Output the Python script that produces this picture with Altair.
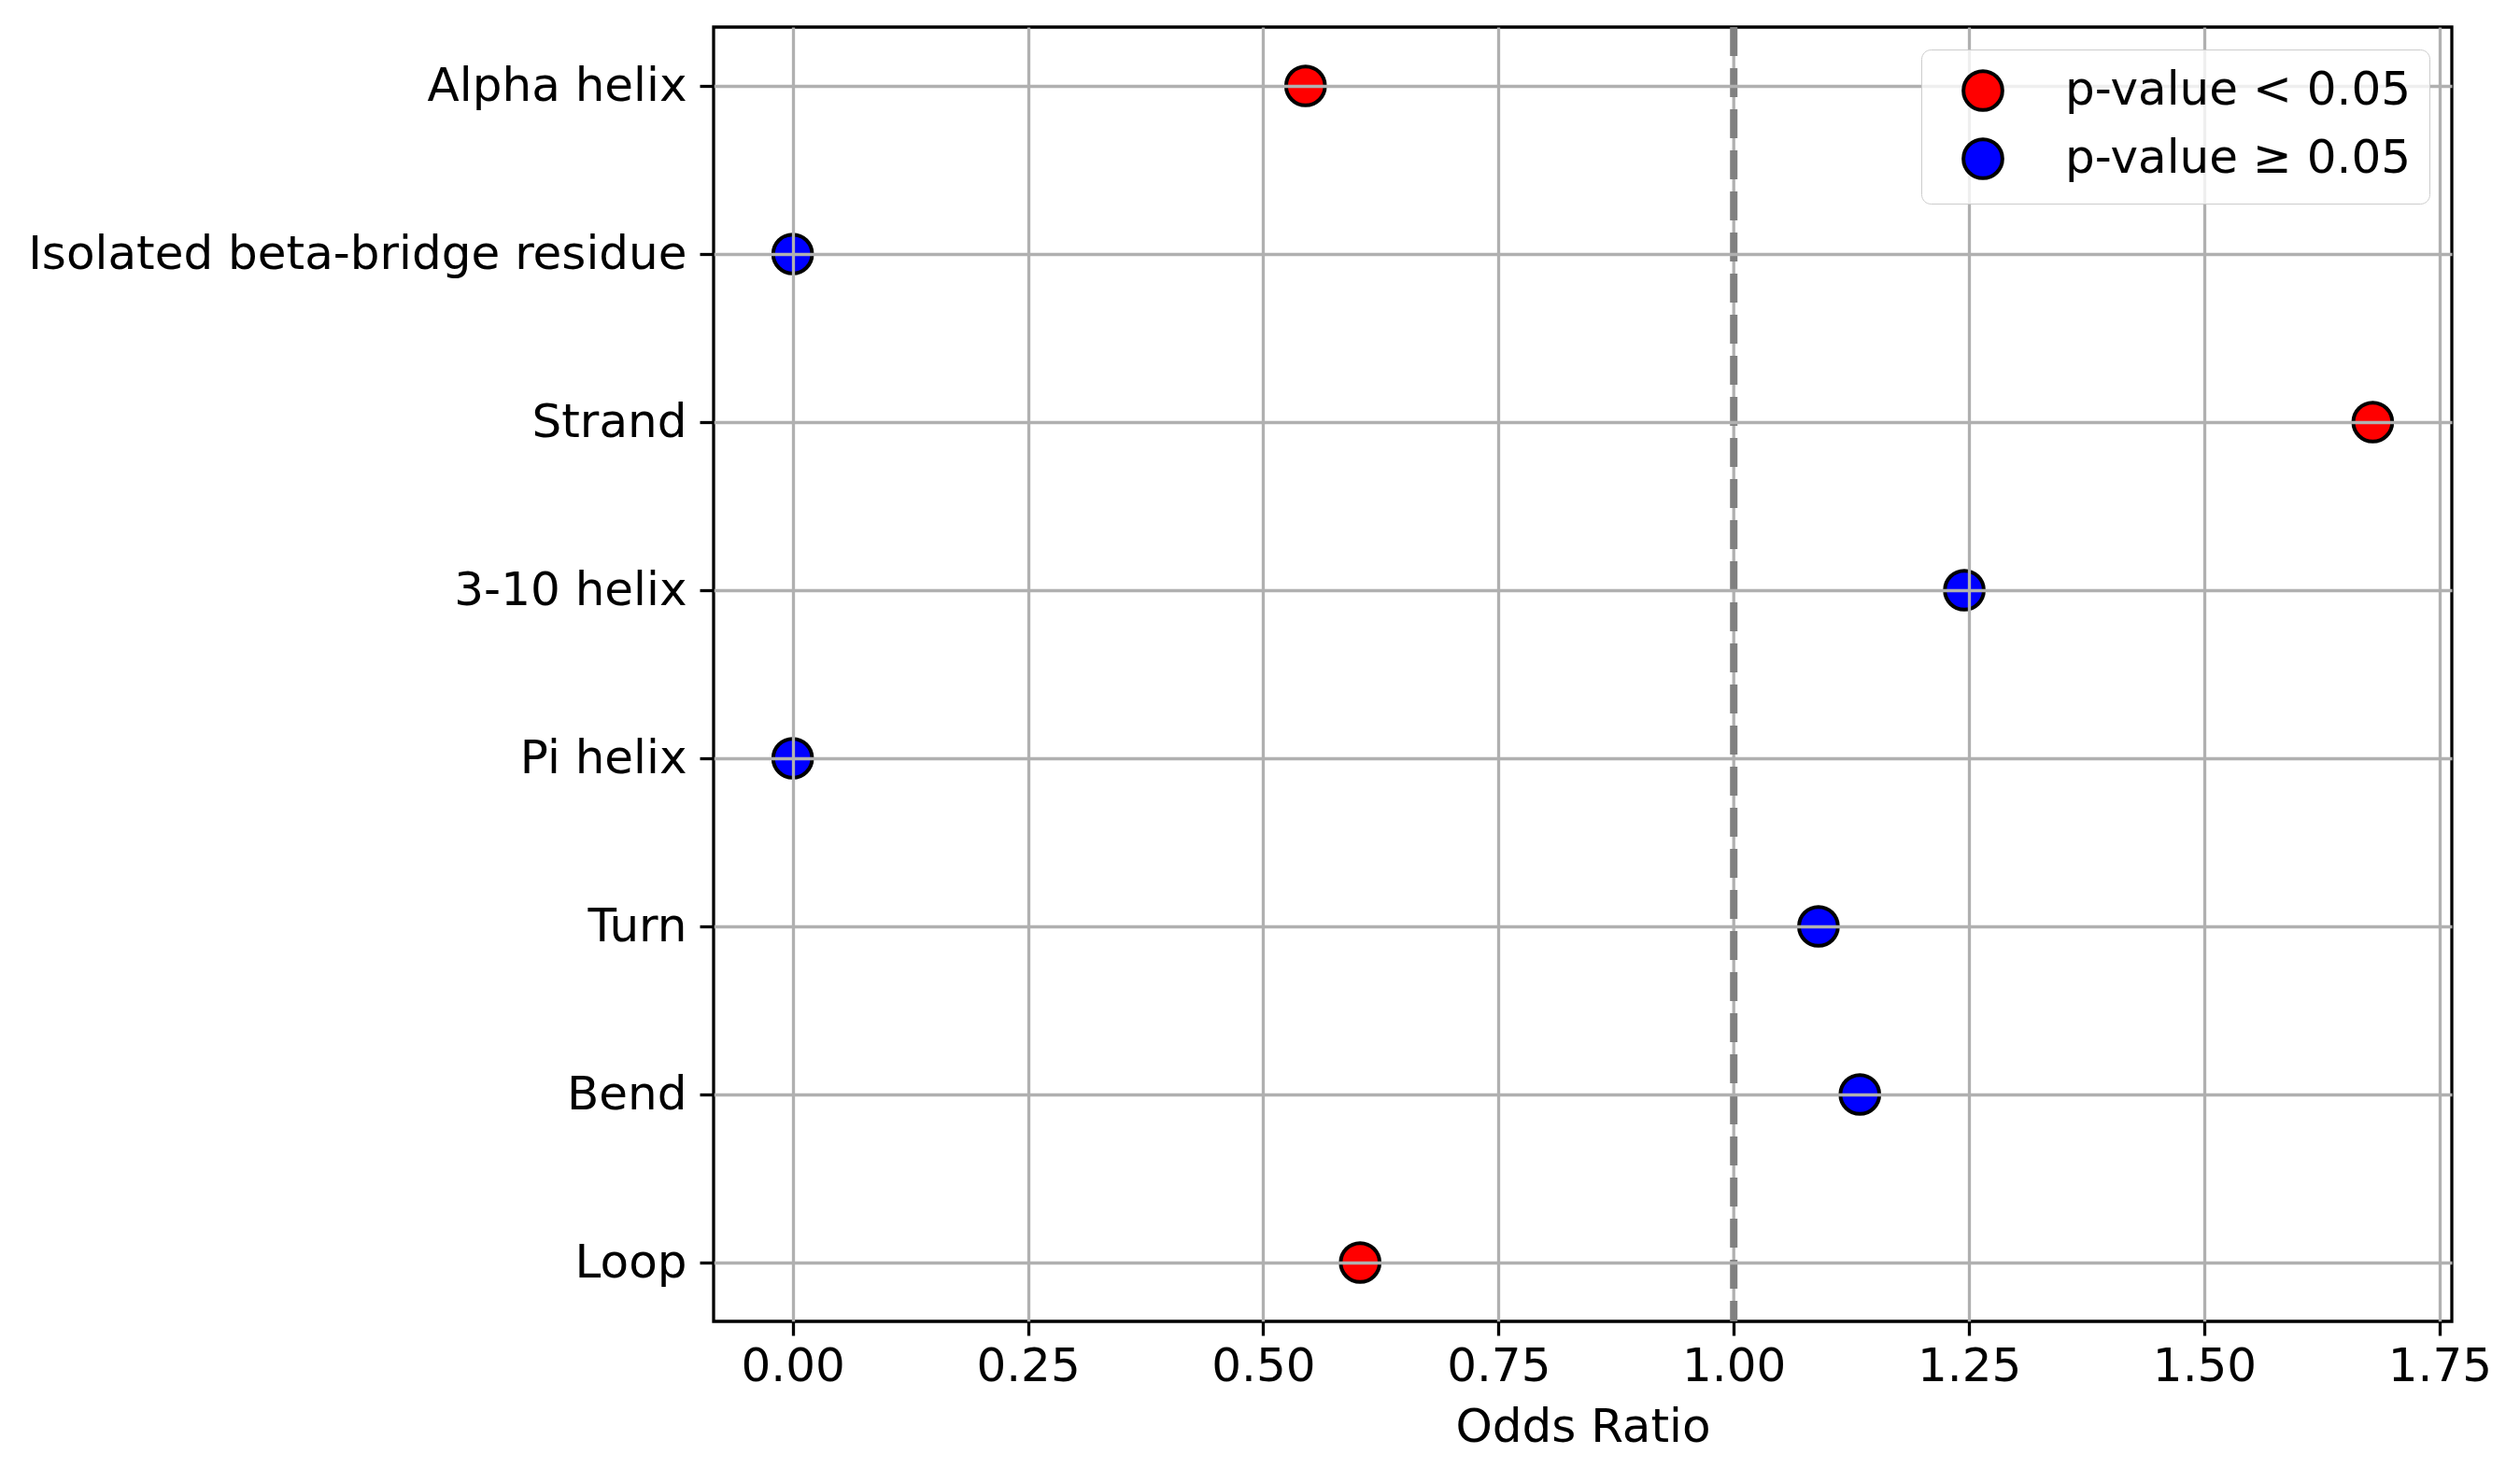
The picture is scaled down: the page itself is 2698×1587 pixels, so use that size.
import altair as alt
import pandas as pd

categories = ["Alpha helix", "Isolated beta-bridge residue", "Strand", "3-10 helix",
              "Pi helix", "Turn", "Bend", "Loop"]
odds_ratio = [0.545, 0.0, 1.679, 1.245, 0.0, 1.090, 1.134, 0.603]
significant = [True, False, True, False, False, False, False, True]
legend_labels = ["p-value < 0.05", "p-value \u2265 0.05"]
legend_colors = ["#ff0000", "#0000ff"]
x_ticks = [0.0, 0.25, 0.5, 0.75, 1.0, 1.25, 1.5, 1.75]
x_domain = [-0.084, 1.763]
reference_line = [1.0]

df = pd.DataFrame({
    "category": categories,
    "odds": odds_ratio,
    "group": [legend_labels[0] if s else legend_labels[1] for s in significant],
})
ref_df = pd.DataFrame({"ref": reference_line})

FONT = "DejaVu Sans"
SYM = 1739

x_scale = alt.Scale(domain=x_domain, nice=False, zero=False)

points = alt.Chart(df).mark_circle(
    size=SYM, opacity=1, stroke="black", strokeWidth=4
).encode(
    x=alt.X("odds:Q", scale=x_scale, axis=alt.Axis(
        values=x_ticks, format=".2f", title="Odds Ratio",
        labelFontSize=50, titleFontSize=50, titleFontWeight="normal",
        labelFont=FONT, titleFont=FONT, labelColor="black", titleColor="black",
        domain=False, tickColor="black", tickWidth=3.3, tickSize=15,
        labelPadding=8, titlePadding=15,
        grid=True, gridColor={"condition": {"test": "datum.value === 1", "value": "transparent"}, "value": "#b0b0b0"},
        gridWidth=3.3, zindex=1,
    )),
    y=alt.Y("category:N", sort=categories,
            scale=alt.Scale(type="point", padding=0.35),
            axis=alt.Axis(title=None, labelFontSize=50, labelFont=FONT, labelColor="black",
                          domain=False, tickColor="black", tickWidth=3.3, tickSize=15,
                          labelPadding=14, labelLimit=2000,
                          grid=True, gridColor="#b0b0b0", gridWidth=3.3, zindex=1)),
    color=alt.Color("group:N", scale=alt.Scale(domain=legend_labels, range=legend_colors),
                    legend=alt.Legend(
                        title=None, orient="top-right", offset=24,
                        labelFontSize=50, labelFont=FONT, labelColor="black", labelLimit=2000,
                        symbolType="circle", symbolSize=SYM, symbolStrokeColor="black",
                        symbolStrokeWidth=4, symbolOpacity=1,
                        padding=19, rowPadding=15, symbolOffset=22, labelOffset=63,
                        fillColor="rgba(255,255,255,0.8)", strokeColor="#cccccc",
                        cornerRadius=10, zindex=2,
                    )),
)

grid_at_ref = alt.Chart(ref_df).mark_rule(color="#b0b0b0", strokeWidth=3.3).encode(
    x=alt.X("ref:Q", scale=x_scale)
)

ref_rule = alt.Chart(ref_df).mark_rule(
    color="#808080", strokeWidth=8, strokeDash=[31, 13]
).encode(
    x=alt.X("ref:Q", scale=x_scale)
)

chart = alt.layer(grid_at_ref, ref_rule, points).properties(
    width=1861, height=1386,
    autosize=alt.AutoSizeParams(type="none"),
    padding={"left": 756, "top": 21, "right": 60, "bottom": 150},
    background="white",
).configure_view(stroke="black", strokeWidth=3.3)

chart.save("out.html", embed_options={"renderer": "svg", "actions": False})
